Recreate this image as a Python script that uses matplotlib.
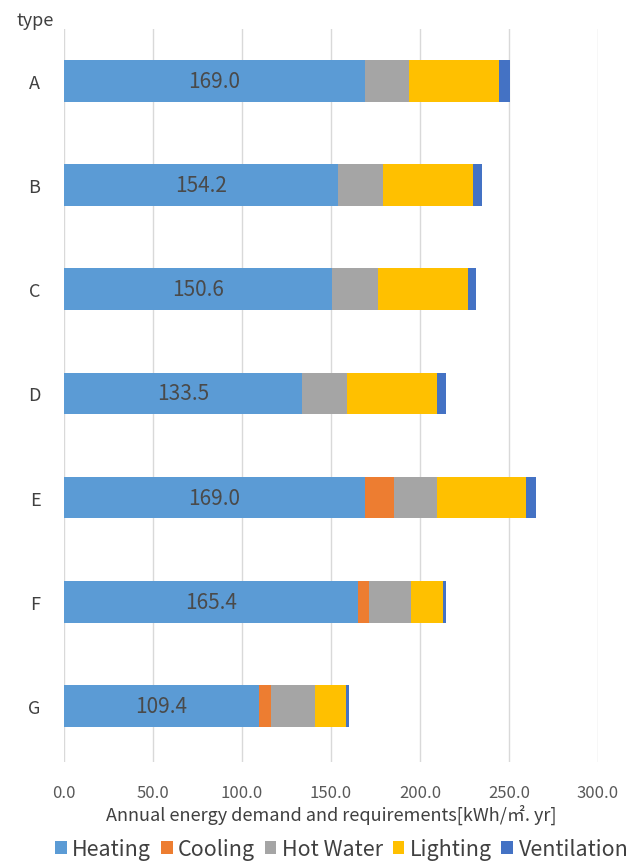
import numpy as np
import matplotlib.pyplot as plt

plt.rcParams['font.family'] = ['Noto Sans CJK KR', 'DejaVu Sans']

types = ['A', 'B', 'C', 'D', 'E', 'F', 'G']
heating = [169.0, 154.2, 150.6, 133.5, 169.0, 165.4, 109.4]
cooling = [0.0, 0.0, 0.0, 0.0, 16.2, 5.8, 7.0]
hot_water = [24.8, 25.0, 25.8, 25.3, 24.2, 24.0, 24.4]
lighting = [50.6, 50.6, 50.3, 50.6, 50.0, 17.5, 17.7]
ventilation = [6.0, 5.0, 5.0, 5.0, 6.0, 1.7, 1.5]

series = [('Heating', heating, '#5B9BD5'),
          ('Cooling', cooling, '#ED7D31'),
          ('Hot Water', hot_water, '#A5A5A5'),
          ('Lighting', lighting, '#FFC000'),
          ('Ventilation', ventilation, '#4472C4')]

fig = plt.figure(figsize=(6.44, 8.62), dpi=100)
ax = fig.add_axes([0.0994, 0.1148, 0.8292, 0.8504])

y = np.arange(len(types))
left = np.zeros(len(types))
for name, vals, col in series:
    ax.barh(y, vals, left=left, height=0.4, color=col, label=name)
    left += np.array(vals)

# value labels in the heating segment
for yi, h in zip(y, heating):
    ax.text(h / 2, yi, f'{h:.1f}', ha='center', va='center',
            fontsize=15, color='#4a4a4a')

ax.set_xlim(0, 300)
ax.set_ylim(6.54, -0.5)
ax.set_xticks(np.arange(0, 301, 50))
ax.set_xticklabels([f'{v:.1f}' for v in np.arange(0, 301, 50)])
ax.set_yticks(y)
ax.set_yticklabels(types)
ax.grid(axis='x', color='#D9D9D9', linewidth=1)
ax.set_axisbelow(True)
for s in ax.spines.values():
    s.set_visible(False)
ax.tick_params(axis='x', length=0, labelsize=12, labelcolor='#595959', pad=16)
ax.tick_params(axis='y', length=0, labelsize=13, labelcolor='#404040', pad=17)

ax.set_xlabel('Annual energy demand and requirements[kWh/㎡. yr]',
              fontsize=13, color='#404040', labelpad=2)
fig.text(0.025, 0.976, 'type', fontsize=13, color='#404040', va='center')

ax.legend(loc='upper center', bbox_to_anchor=(0.52, -0.083), ncol=5,
          frameon=False, fontsize=15.5, handlelength=0.55, handleheight=0.55,
          handletextpad=0.25, columnspacing=0.45, labelcolor='#404040',
          borderpad=0.2)

fig.savefig('out.png', dpi=100)
